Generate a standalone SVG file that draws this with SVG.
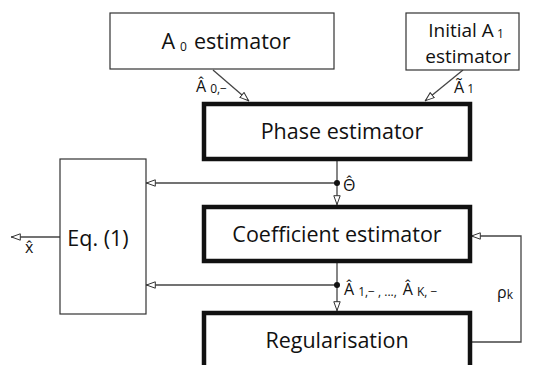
<svg xmlns="http://www.w3.org/2000/svg" width="539" height="365" viewBox="0 0 539 365">
<defs>
<style>
.box{fill:#fff;stroke:#333;stroke-width:1.2}
.tbox{fill:#fff;stroke:#111;stroke-width:4.5}
.con{fill:none;stroke:#444;stroke-width:1.3}
text{font-family:"Open Sans","Noto Sans","Liberation Sans",sans-serif;fill:#111}
.big{font-size:21.5px;text-anchor:middle}
.mid{font-size:19px;text-anchor:middle}
.lab{font-size:16px}
.sub{font-size:12px}
</style>
<marker id="arr" viewBox="0 0 10 8" refX="10" refY="4" markerWidth="10" markerHeight="8" markerUnits="userSpaceOnUse" orient="auto">
<path d="M0.7,0.8 L9.5,4 L0.7,7.2 Z" fill="#fff" stroke="#333" stroke-width="1"/>
</marker>
</defs>
<g id="connectors">
<line class="con" x1="213" y1="70" x2="249" y2="101" marker-end="url(#arr)"/>
<line class="con" x1="463" y1="70" x2="425" y2="101" marker-end="url(#arr)"/>
<line class="con" x1="337" y1="161" x2="337" y2="205" marker-end="url(#arr)"/>
<line class="con" x1="337" y1="183" x2="146" y2="183" marker-end="url(#arr)"/>
<circle cx="337" cy="183" r="3" fill="#111"/>
<line class="con" x1="337" y1="263" x2="337" y2="311" marker-end="url(#arr)"/>
<line class="con" x1="337" y1="285" x2="146" y2="285" marker-end="url(#arr)"/>
<circle cx="337" cy="285" r="3" fill="#111"/>
<polyline class="con" points="472,342 521,342 521,236 471,236" marker-end="url(#arr)"/>
<line class="con" x1="60" y1="237" x2="11" y2="237" marker-end="url(#arr)"/>
</g>
<g id="a0">
<rect class="box" x="110" y="13" width="224" height="56"/>
<text class="big" x="226" y="49">A<tspan class="sub" dx="5" dy="2">0</tspan><tspan dx="7" dy="-2">estimator</tspan></text>
</g>
<g id="a1">
<rect class="box" x="406" y="13" width="113" height="57"/>
<text class="mid" x="466" y="37">Initial A<tspan class="sub" dx="3" dy="1">1</tspan></text>
<text class="mid" x="468" y="63">estimator</text>
</g>
<g id="phase">
<rect class="tbox" x="204" y="104" width="266" height="55"/>
<text class="big" x="342" y="139">Phase estimator</text>
</g>
<g id="coef">
<rect class="tbox" x="204" y="207" width="266" height="54"/>
<text class="big" x="337" y="242">Coefficient estimator</text>
</g>
<g id="reg">
<rect class="tbox" x="204" y="313" width="266" height="60"/>
<text class="big" x="337" y="348">Regularisation</text>
</g>
<g id="eq">
<rect class="box" x="60" y="159" width="86" height="155"/>
<text class="big" x="98" y="246">Eq. (1)</text>
</g>
<g id="labels">
<text class="lab" x="196" y="92">Â<tspan class="sub" dx="4" dy="1">0,−</tspan></text>
<text class="lab" x="454" y="93">Ã<tspan class="sub" dx="3" dy="0">1</tspan></text>
<text class="lab" x="343" y="191">Θ̂</text>
<text class="lab" x="344" y="295">Â<tspan class="sub" dx="4" dy="1">1,− , ...,</tspan><tspan dx="6" dy="-1">Â</tspan><tspan class="sub" dx="4" dy="1">K,  −</tspan></text>
<text class="lab" x="497" y="298">ρ<tspan class="sub" dy="1">k</tspan></text>
<text class="lab" x="25" y="253">x̂</text>
</g>
</svg>
